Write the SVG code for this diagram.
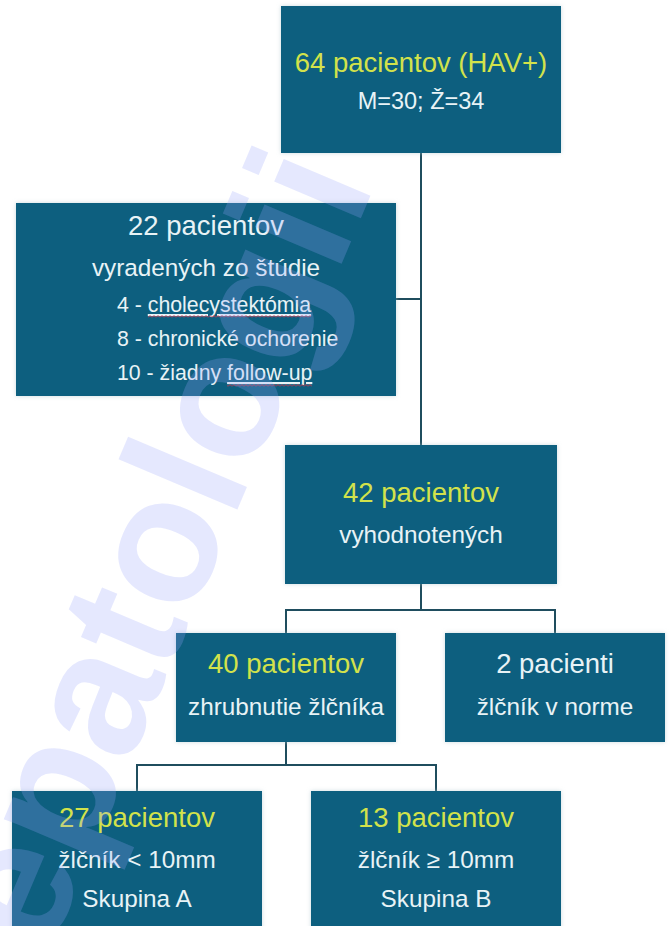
<svg xmlns="http://www.w3.org/2000/svg" width="672" height="926" viewBox="0 0 672 926">
<style>
.box{fill:#0a5e7f;}
.t{font-family:"Liberation Sans",Arial,sans-serif;text-anchor:middle;}
.y{fill:#d2e24b;font-size:27.5px;}
.w{fill:#e8f3f6;font-size:24.3px;}
.l{fill:#e8f3f6;font-size:21.3px;font-family:"Liberation Sans",Arial,sans-serif;}
.c{stroke:#1f4d5e;stroke-width:2;fill:none;}
.wm{font-family:"Liberation Sans",Arial,sans-serif;font-weight:bold;font-size:178px;fill:rgb(150,165,250);fill-opacity:0.25;}
</style>
<defs>
<filter id="sh" x="-5%" y="-5%" width="110%" height="110%">
<feDropShadow dx="0" dy="0" stdDeviation="2" flood-color="#a9c2ca" flood-opacity="0.6"/>
</filter>
<pattern id="sq" width="4" height="3" patternUnits="userSpaceOnUse">
<path d="M0,2.5 L2,0.5 L4,2.5" stroke="#d8334a" stroke-width="0.9" fill="none"/>
</pattern>
</defs>
<rect width="672" height="926" fill="#ffffff"/>
<g id="connectors">
<path class="c" d="M421,153 V445"/>
<path class="c" d="M396,299 H421"/>
<path class="c" d="M421,584 V610 M286,633 V610 H555 V633"/>
<path class="c" d="M286,742 V765 M137,791 V765 H436 V791"/>
</g>
<g id="n64">
<rect class="box" filter="url(#sh)" x="281" y="6" width="280" height="147"/>
<text class="t y" x="421" y="72">64 pacientov (HAV+)</text>
<text class="t w" x="421" y="109" style="font-size:23.5px">M=30; Ž=34</text>
</g>
<g id="n22">
<rect class="box" filter="url(#sh)" x="16" y="203" width="380" height="193"/>
<text class="t w" x="206" y="235" style="font-size:27.5px">22 pacientov</text>
<text class="t w" x="206" y="276">vyradených zo štúdie</text>
<text class="l" x="117" y="312">4 - <tspan text-decoration="underline">cholecystektómia</tspan></text>
<rect x="148" y="315" width="163" height="3" fill="url(#sq)"/>
<text class="l" x="117" y="346">8 - chronické ochorenie</text>
<text class="l" x="117" y="380">10 - žiadny <tspan text-decoration="underline">follow-up</tspan></text>
<rect x="227" y="384" width="85" height="3" fill="url(#sq)"/>
</g>
<g id="n42">
<rect class="box" filter="url(#sh)" x="285" y="445" width="272" height="139"/>
<text class="t y" x="421" y="502">42 pacientov</text>
<text class="t w" x="421" y="543">vyhodnotených</text>
</g>
<g id="n40">
<rect class="box" filter="url(#sh)" x="176" y="633" width="220" height="109"/>
<text class="t y" x="286" y="673">40 pacientov</text>
<text class="t w" x="286" y="715">zhrubnutie žlčníka</text>
</g>
<g id="n2">
<rect class="box" filter="url(#sh)" x="445" y="633" width="220" height="109"/>
<text class="t w" x="555" y="673" style="font-size:27.5px">2 pacienti</text>
<text class="t w" x="555" y="715">žlčník v norme</text>
</g>
<g id="n27">
<rect class="box" filter="url(#sh)" x="12" y="791" width="250" height="150"/>
<text class="t y" x="137" y="827">27 pacientov</text>
<text class="t w" x="137" y="868">žlčník &lt; 10mm</text>
<text class="t w" x="137" y="907">Skupina A</text>
</g>
<g id="n13">
<rect class="box" filter="url(#sh)" x="311" y="791" width="250" height="150"/>
<text class="t y" x="436" y="827">13 pacientov</text>
<text class="t w" x="436" y="868">žlčník ≥ 10mm</text>
<text class="t w" x="436" y="907">Skupina B</text>
</g>
<g id="watermark">
<text class="wm" transform="translate(47,958) rotate(-67)">epatologii</text>
</g>
</svg>
